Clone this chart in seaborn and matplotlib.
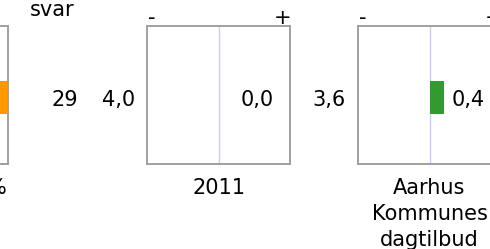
import matplotlib
matplotlib.use("Agg")
import matplotlib.pyplot as plt
import seaborn as sns
import pandas as pd

# ---- data ----
pct_label = "%"
pct_value = [99]
antal_svar = 29
svar_header = "svar"
compare_labels = ["2011", "Aarhus\nKommunes\ndagtilbud"]
compare_scores = [4.0, 3.6]
diff_values = [0.0, 0.4]
bar_colors = ["#FF9900", "#339933", "#339933"]

sns.set_theme(style="white")
plt.rcParams['font.family'] = ['DejaVu Sans']
plt.rcParams['text.color'] = 'black'
FS = 15

W, H = 490, 249
fig = plt.figure(figsize=(W / 100, H / 100), dpi=100)

def fx(px):
    return px / W

def fy(py):
    return (H - py) / H

box_top, box_bot = 26, 164
box_w = 143
edge = "#a0a0a0"

def make_ax(left_px):
    ax = fig.add_axes([fx(left_px), fy(box_bot), box_w / W, (box_bot - box_top) / H])
    for s in ax.spines.values():
        s.set_visible(True)
        s.set_color(edge)
        s.set_linewidth(1.4)
    return ax

def fmt(v):
    return f"{v:.1f}".replace(".", ",")

# panel 1 (percent, partially visible)
ax1 = make_ax(8 - box_w)
df1 = pd.DataFrame({"v": pct_value, "c": ["a"]})
sns.barplot(data=df1, x="v", y="c", orient="h", color=bar_colors[0],
            width=0.24, ax=ax1, saturation=1, linewidth=0)
ax1.set_xlim(0, 100)
ax1.set_ylim(0.48, -0.52)
ax1.set_xticks([]); ax1.set_yticks([])
ax1.set_xlabel(""); ax1.set_ylabel("")
fig.text(fx(7), fy(194), pct_label, ha="right", va="baseline", fontsize=FS)

# header and count
fig.text(fx(52), fy(16), svar_header, ha="center", va="baseline", fontsize=FS)
fig.text(fx(78), fy(106), str(antal_svar), ha="right", va="baseline", fontsize=FS)

lefts = [147, 358]
for i, (lab, sc, dv) in enumerate(zip(compare_labels, compare_scores, diff_values)):
    L = lefts[i]
    ax = make_ax(L)
    df = pd.DataFrame({"v": [dv], "c": ["a"]})
    sns.barplot(data=df, x="v", y="c", orient="h", color=bar_colors[i + 1],
                width=0.24, ax=ax, saturation=1, linewidth=0)
    ax.set_xlim(-2, 2)
    ax.set_ylim(0.48, -0.52)
    ax.axvline(0, color="#ccccee", lw=1, zorder=0)
    ax.set_xticks([]); ax.set_yticks([])
    ax.set_xlabel(""); ax.set_ylabel("")
    c = L + box_w / 2
    fig.text(fx(L - 12), fy(106), fmt(sc), ha="right", va="baseline", fontsize=FS)
    fig.text(fx(c + 22), fy(106), fmt(dv), ha="left", va="baseline", fontsize=FS)
    fig.text(fx(L + 1), fy(24), "-", ha="left", va="baseline", fontsize=FS)
    fig.text(fx(L + box_w + 1), fy(24), "+", ha="right", va="baseline", fontsize=FS)
    fig.text(fx(c), fy(178), lab, ha="center", va="top", fontsize=FS,
             linespacing=1.38)

fig.savefig("out.png", dpi=100)
